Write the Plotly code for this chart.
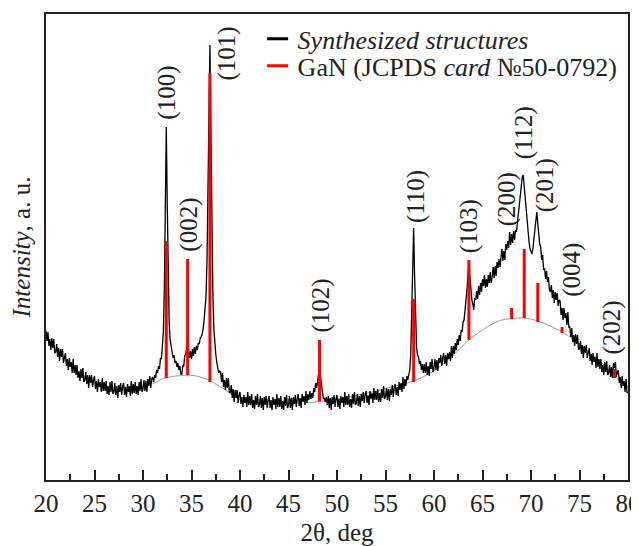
import plotly.graph_objects as go

# ---------------- data ----------------
# XRD scan: start angle and step of the measurement grid (deg)
two_theta_start = 20.0
two_theta_step = 0.1

counts_20_30 = [149, 139, 148, 134, 141, 130, 142, 132, 141, 127,
                128, 136, 123, 132, 119, 131, 123, 131, 117, 124,
                127, 114, 121, 110, 122, 113, 118, 107, 121, 107,
                115, 105, 115, 102, 109, 99, 111, 102, 112, 98,
                100, 108, 96, 105, 92, 105, 97, 105, 93, 100,
                104, 91, 99, 88, 101, 93, 98, 88, 102, 89,
                98, 89, 99, 86, 94, 85, 98, 88, 99, 86,
                88, 97, 85, 94, 82, 95, 88, 97, 85, 93,
                97, 85, 93, 83, 96, 88, 94, 84, 99, 86,
                96, 87, 98, 86, 94, 85, 98, 89, 101, 88]
counts_30_40 = [91, 100, 89, 99, 88, 101, 94, 104, 92, 101,
                103, 98, 105, 102, 110, 107, 114, 111, 122, 121,
                132, 148, 190, 270, 353, 275, 195, 157, 140, 132,
                129, 122, 125, 117, 119, 113, 117, 110, 114, 106,
                106, 114, 114, 124, 126, 135, 138, 130, 122, 129,
                121, 131, 124, 133, 126, 134, 130, 137, 136, 142,
                143, 146, 151, 160, 170, 185, 220, 280, 360, 435,
                350, 250, 190, 152, 134, 126, 118, 114, 107, 109,
                108, 98, 107, 93, 100, 90, 102, 92, 102, 88,
                87, 95, 82, 91, 78, 90, 82, 90, 77, 85]
counts_40_50 = [88, 76, 83, 73, 85, 77, 83, 73, 88, 75,
                84, 75, 86, 72, 80, 71, 84, 75, 86, 73,
                75, 84, 72, 82, 70, 83, 75, 84, 72, 80,
                84, 72, 80, 70, 83, 75, 81, 71, 86, 73,
                82, 73, 84, 71, 79, 70, 83, 74, 85, 72,
                75, 84, 72, 82, 70, 83, 76, 85, 73, 81,
                86, 74, 82, 72, 86, 78, 84, 75, 89, 77,
                86, 80, 89, 81, 87, 82, 92, 88, 97, 92,
                101, 109, 113, 103, 94, 87, 81, 82, 78, 83,
                75, 84, 72, 82, 70, 83, 76, 85, 73, 81]
counts_50_60 = [85, 73, 81, 71, 84, 77, 83, 73, 88, 75,
                84, 75, 86, 73, 81, 72, 86, 76, 88, 75,
                77, 86, 74, 84, 73, 86, 79, 88, 77, 85,
                89, 77, 85, 75, 89, 81, 87, 77, 92, 80,
                89, 80, 91, 78, 87, 78, 91, 82, 94, 81,
                83, 92, 80, 91, 79, 91, 85, 95, 83, 92,
                96, 85, 93, 84, 98, 90, 97, 88, 103, 91,
                101, 94, 104, 100, 108, 110, 125, 160, 215, 252,
                205, 155, 133, 125, 123, 116, 119, 110, 116, 107,
                116, 107, 118, 105, 114, 104, 118, 111, 121, 108]
counts_60_70 = [112, 121, 110, 120, 109, 122, 117, 125, 114, 122,
                127, 116, 125, 114, 127, 121, 128, 119, 134, 122,
                134, 126, 137, 130, 141, 135, 145, 139, 150, 148,
                158, 160, 170, 177, 190, 205, 217, 204, 189, 180,
                176, 170, 182, 180, 189, 181, 194, 185, 197, 188,
                201, 194, 205, 192, 201, 193, 205, 197, 208, 197,
                203, 213, 202, 214, 204, 218, 212, 221, 213, 222,
                231, 219, 229, 220, 236, 230, 239, 232, 248, 235,
                246, 237, 249, 240, 250, 248, 257, 262, 271, 281,
                291, 303, 305, 294, 280, 266, 256, 246, 238, 231]
counts_70_80 = [228, 226, 232, 241, 254, 264, 268, 256, 243, 236,
                233, 220, 225, 210, 212, 201, 209, 198, 203, 190,
                188, 195, 182, 190, 177, 188, 180, 187, 174, 180,
                179, 165, 172, 160, 172, 162, 167, 155, 168, 153,
                153, 143, 152, 138, 145, 134, 146, 136, 145, 131,
                131, 139, 126, 135, 122, 134, 127, 135, 122, 129,
                132, 119, 126, 115, 127, 118, 123, 112, 127, 113,
                121, 111, 121, 108, 115, 105, 118, 108, 119, 105,
                107, 115, 103, 113, 102, 117, 112, 118, 103, 108,
                110, 97, 103, 92, 104, 94, 99, 88, 101, 87,
                88]

# amorphous background humps (thin grey curves)
hump1_angles = [31.0, 32.0, 33.0, 34.0, 34.6, 35.5, 36.5, 37.5, 38.5, 39.5, 40.0]
hump1_counts = [96, 101, 103.5, 104.5, 105, 104, 101, 96, 90, 83, 80]
hump2_angles = [47.0, 48.2, 50.0, 52.0, 54.0, 56.0, 57.9, 60.0, 62.0, 63.6, 65.0, 66.0, 67.0,
                68.0, 69.0, 70.0, 70.7, 72.0, 73.2, 74.5, 76.0, 77.0, 78.0, 78.6, 79.3, 80.0]
hump2_counts = [77, 78.5, 81, 84.5, 89, 94, 99, 109, 125, 140, 150, 156, 160,
                161.5, 162, 161, 159, 154, 148, 140, 128, 120, 110, 104, 98, 93]

# GaN reference lines (JCPDS 50-0792)
gan_angles = [32.4, 34.6, 36.9, 48.2, 57.9, 63.6, 68.0, 69.3, 70.7, 73.2, 78.6]
gan_top = [239, 221, 407, 140, 181, 220, 172, 231, 197, 153, 111]
gan_base = [102, 105, 98, 78.5, 98, 140, 161, 162, 158, 147, 102]
hkl = ["(100)", "(002)", "(101)", "(102)", "(110)", "(103)", "(200)",
       "(112)", "(201)", "(004)", "(202)"]

# ---------------- layout helpers (label placement) ----------------
label_x = [32.39, 34.66, 38.56, 48.4, 58.1, 63.58, 67.5, 69.26, 71.43, 74.2, 78.25]
label_y = [387.5, 255.5, 426.5, 175, 283.5, 253.5, 280.5, 347.5, 294.5, 210, 152.5]

FONT = "'Liberation Serif', 'Times New Roman', serif"
INK = "#222"

counts = counts_20_30 + counts_30_40 + counts_40_50 + counts_50_60 + counts_60_70 + counts_70_80
two_theta = [round(two_theta_start + i * two_theta_step, 1) for i in range(len(counts))]

fig = go.Figure()

# grey background humps
for ax_, cy_ in ((hump1_angles, hump1_counts), (hump2_angles, hump2_counts)):
    fig.add_trace(go.Scatter(x=ax_, y=cy_, mode="lines",
                             line=dict(color="#9a9a9a", width=1, shape="spline", smoothing=0.8),
                             showlegend=False, hoverinfo="skip"))

# measured pattern
fig.add_trace(go.Scatter(x=two_theta, y=counts, mode="lines", line=dict(color="black", width=1.3),
                         showlegend=False, name="Synthesized structures"))

# GaN stick pattern
sx, sy = [], []
for a, b, t in zip(gan_angles, gan_base, gan_top):
    sx += [a, a, None]
    sy += [b, t, None]
fig.add_trace(go.Scatter(x=sx, y=sy, mode="lines", line=dict(color="#ff0000", width=3),
                         showlegend=False, name="GaN"))

# legend entries (short line symbols)
fig.add_trace(go.Scatter(x=[None], y=[None], mode="markers", name="<i>Synthesized structures</i>",
                         marker=dict(symbol="line-ew", size=15, line=dict(width=3, color="black")),
                         legend="legend"))
fig.add_trace(go.Scatter(x=[None], y=[None], mode="markers", name="GaN (JCPDS <i>card</i> №50-0792)",
                         marker=dict(symbol="line-ew", size=15, line=dict(width=3, color="#ff0000")),
                         legend="legend2"))

for txt, lx, ly in zip(hkl, label_x, label_y):
    fig.add_annotation(x=lx, y=ly, text=txt, textangle=-90, showarrow=False,
                       xanchor="center", yanchor="middle", font=dict(family=FONT, size=25, color=INK))

axis_common = dict(showline=True, linecolor=INK, linewidth=2, mirror=True, showgrid=False,
                   zeroline=False, automargin=False)
fig.update_xaxes(range=[20, 80], dtick=5, tick0=20, ticks="inside", ticklen=10, tickwidth=1.5, tickcolor=INK,
                 minor=dict(dtick=2.5, tick0=20, ticks="inside", ticklen=6, tickwidth=1.5, tickcolor=INK),
                 tickfont=dict(family=FONT, size=25, color=INK), ticklabeloverflow="allow",
                 title=dict(text="2θ, deg", font=dict(family=FONT, size=25, color=INK), standoff=8),
                 **axis_common)
fig.update_yaxes(range=[0, 466], showticklabels=False, ticks="",
                 title=dict(text="<i>Intensity</i>, a. u.", font=dict(family=FONT, size=25, color=INK), standoff=7),
                 **axis_common)

legend_common = dict(xanchor="left", yanchor="middle", bgcolor="rgba(0,0,0,0)", borderwidth=0,
                     font=dict(family=FONT, size=26, color=INK), itemclick=False)
# the page body adds an 8 px offset, so the figure is 8 px smaller and margins shifted
fig.update_layout(
    width=631, height=538,
    margin=dict(l=38, r=11, t=6, b=66),
    plot_bgcolor="white", paper_bgcolor="white",
    legend=dict(x=0.3636, y=0.9466, **legend_common),
    legend2=dict(x=0.3636, y=0.8886, **legend_common),
)

fig.write_html("out.html")
